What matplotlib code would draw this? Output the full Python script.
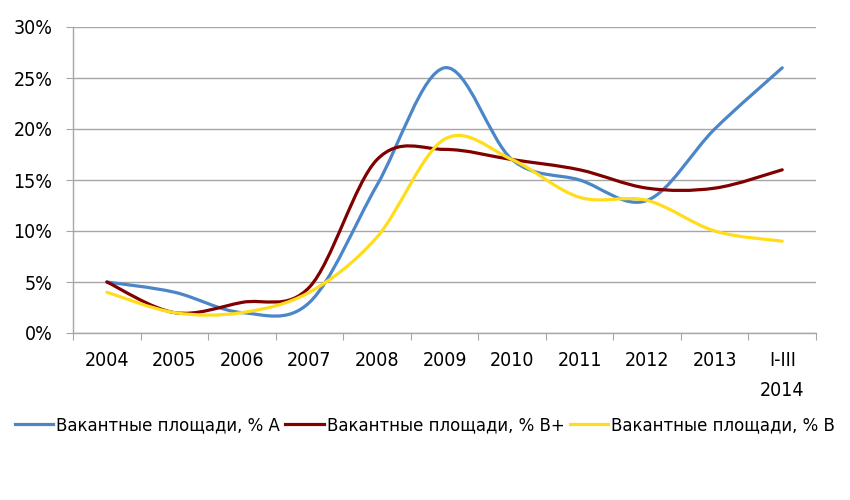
import numpy as np
import matplotlib
matplotlib.use('Agg')
from matplotlib import pyplot as plt
from matplotlib.path import Path
from matplotlib.patches import PathPatch

## categories and values (%)
years = ['2004', '2005', '2006', '2007', '2008', '2009',
         '2010', '2011', '2012', '2013', 'I-III\n2014']
vac_a  = [5.0, 4.0, 2.0, 3.0, 14.5, 26.0, 17.0, 15.0, 13.0, 20.0, 26.0]
vac_bp = [5.0, 2.0, 3.0, 4.5, 17.0, 18.0, 17.0, 16.0, 14.2, 14.2, 16.0]
vac_b  = [4.0, 2.0, 2.0, 4.0, 9.4, 19.0, 17.0, 13.3, 13.0, 10.0, 9.0]

labels = ['Вакантные площади, % A', 'Вакантные площади, % B+', 'Вакантные площади, % B']
colors = ['#4A86C8', '#800000', '#FFDD1A']

## narrow font like the original
plt.rcParams['font.family'] = ['DejaVu Sans']
plt.rcParams['font.stretch'] = 'condensed'


## smoothed line like Excel: cubic bezier segments through the data points
def smooth_path(x, y):
    pts = np.column_stack([x, y]).astype(float)
    n = len(pts)
    verts = [pts[0]]
    codes = [Path.MOVETO]
    for i in range(n - 1):
        p_prev = pts[i - 1] if i > 0 else pts[i]
        p_next2 = pts[i + 2] if i + 2 < n else pts[i + 1]
        c1 = pts[i] + (pts[i + 1] - p_prev) / 6.0
        c2 = pts[i + 1] - (p_next2 - pts[i]) / 6.0
        verts += [c1, c2, pts[i + 1]]
        codes += [Path.CURVE4] * 3
    return Path(verts, codes)


fig = plt.figure(figsize=(8.5, 5), dpi=100)
ax = fig.add_axes([0.086, 0.334, 0.874, 0.612])

x = np.arange(len(years))
for vals, col, lab in zip([vac_a, vac_bp, vac_b], colors, labels):
    ax.add_patch(PathPatch(smooth_path(x, vals), facecolor='none', edgecolor=col,
                           linewidth=2.3, capstyle='round', zorder=3))
    ax.plot([], [], color=col, linewidth=2.3, label=lab)

## axes appearance
ax.set_xlim(-0.5, len(years) - 0.5)
ax.set_ylim(0, 30)
ax.set_yticks(np.arange(0, 31, 5))
ax.set_yticklabels(['%d%%' % v for v in range(0, 31, 5)], fontsize=14)
ax.yaxis.grid(True, color='#A6A6A6', linewidth=1)
ax.set_axisbelow(True)

ax.set_xticks(np.arange(-0.5, len(years), 1.0))
ax.set_xticklabels([])
ax.set_xticks(x, minor=True)
ax.set_xticklabels(years, minor=True, fontsize=14, linespacing=1.75, va='top')
ax.tick_params(axis='x', which='major', length=5, color='#A6A6A6', direction='out')
ax.tick_params(axis='x', which='minor', length=0, pad=13)
ax.tick_params(axis='y', length=5, color='#A6A6A6', pad=10)

for s in ['top', 'right']:
    ax.spines[s].set_visible(False)
for s in ['left', 'bottom']:
    ax.spines[s].set_color('#A6A6A6')
    ax.spines[s].set_linewidth(1)

fig.legend(loc='center', bbox_to_anchor=(0.5, 0.15), ncol=3, frameon=False,
           fontsize=13.2, handlelength=2.1, handletextpad=0.15, columnspacing=0.3,
           borderpad=0.1)

plt.savefig('out.png', dpi=100)
